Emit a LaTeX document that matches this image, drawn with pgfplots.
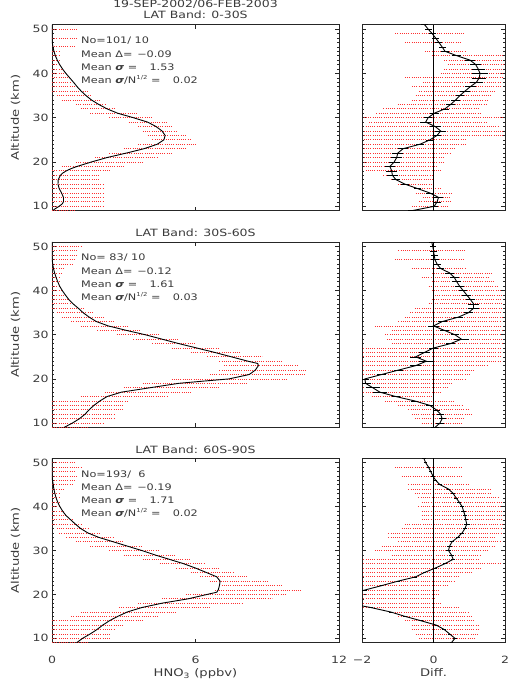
\documentclass[border=0pt]{standalone}
\usepackage{pgfplots}
\pgfplotsset{compat=1.18}
\usepackage{pgfplotstable}
\usepackage{fontspec}
\setmainfont{DejaVu Sans}
\definecolor{txt}{HTML}{3A3A3A}
\definecolor{dotred}{HTML}{FF3030}
\newcommand{\W}[1]{\tikz[baseline=(w.base)]\node[xscale=1.25, transform shape, inner sep=0pt, outer sep=0pt, anchor=base](w){#1};}

% ---------- Panel 1 (0-30S) ----------
\pgfplotstableread{
a lo hi
50 0 1.1
48 0 1.1
46 0 1.0
45 0 0.3
44 0 0.3
43 0 0.3
42 0 0.3
41 0 0.4
40 0 0.5
39 0 0.7
38 0 0.8
37 0 1.0
36 0 1.5
35 0.2 1.6
34 0.4 2.0
33 1.0 2.2
32 1.2 2.6
31 1.6 3.6
30 2.4 4.2
29 3.2 4.8
28 3.6 5.0
27 3.8 5.2
26 4.0 5.6
25 4.2 5.8
24 3.6 6.0
23 3.0 5.6
22 2.4 5.0
21 1.8 4.4
20 1.0 3.8
19 0.4 3.0
18 0 2.4
17 0 2.0
16 0 2.0
15 0 2.2
14 0 2.2
13 0 2.2
12 0 2.2
11 0 2.2
10 0 2.2
9 0 1.0
}\redA
\pgfplotstableread{
a x
9.1 0.05
9.5 0.15
10.0 0.30
10.5 0.42
11.0 0.48
12.0 0.48
13.0 0.40
14.0 0.30
15.0 0.25
16.0 0.26
17.0 0.35
17.5 0.45
18.0 0.60
18.5 0.80
19.0 1.05
19.5 1.35
20.0 1.65
21.0 2.30
22.0 3.10
23.0 3.85
24.0 4.40
25.0 4.68
26.0 4.73
27.0 4.60
28.0 4.35
29.0 4.00
30.0 3.40
31.0 2.75
32.0 2.30
33.0 1.95
34.0 1.65
35.0 1.42
36.0 1.22
37.0 1.05
38.0 0.90
39.0 0.74
40.0 0.58
41.0 0.44
42.0 0.32
43.0 0.22
44.0 0.14
45.0 0.08
46.0 0.04
47.0 0.01
48.0 0.0
51.0 0.0
}\curA
\pgfplotstableread{
a lo hi
49 -1.07 0.89
47 -0.80 0.79
45 -0.24 0.89
44 -0.05 1.95
43 0.30 1.95
42 0.40 1.95
41 0.30 1.95
40 0.20 1.95
39 -0.80 1.95
38 -0.30 1.90
37 -0.60 1.90
36 -0.40 1.70
35 -0.50 1.60
34 -0.60 1.50
33 -1.00 1.50
32 -1.40 1.30
31 -1.60 1.30
30 -1.95 1.95
29 -1.80 1.50
28 -1.90 1.80
27 -1.95 1.95
26 -1.95 1.95
25 -1.95 0.90
24 -1.95 0.90
23 -1.95 0.60
22 -1.95 0.50
21 -1.95 0.30
20 -1.95 0.30
19 -1.95 0.10
18 -1.90 0.20
17 -1.40 0.00
16 -1.20 0.00
15 -1.00 0.00
14 -0.50 0.20
13 -0.50 0.50
12 -0.30 0.50
11 -0.40 0.50
10 -0.60 0.40
}\redB
\pgfplotstableread{
a d e
51 -0.25 0.10
50 -0.15 0.10
49 -0.04 0.10
48 0.06 0.10
47 0.15 0.10
46 0.24 0.10
45 0.32 0.10
44 0.65 0.12
43 1.02 0.15
42 1.18 0.15
41 1.25 0.18
40 1.30 0.22
39 1.28 0.20
38 1.20 0.18
37 1.03 0.15
36 0.88 0.15
35 0.74 0.12
34 0.62 0.12
33 0.48 0.12
32 0.32 0.12
31 0.02 0.12
30 -0.15 0.12
29 -0.22 0.15
28 0.05 0.15
27 0.20 0.15
26 0.10 0.12
25 -0.10 0.12
24 -0.38 0.12
23 -0.85 0.15
22 -1.00 0.15
21 -1.03 0.15
20 -1.10 0.15
19 -1.22 0.15
18 -1.17 0.15
17 -1.15 0.15
16 -1.05 0.12
15 -0.80 0.12
14 -0.45 0.10
13 -0.10 0.10
12 0.14 0.12
11 0.10 0.10
10 0.02 0.10
9 -0.60 0.10
}\curB

% ---------- Panel 2 (30S-60S) ----------
\pgfplotstableread{
a lo hi
50 0 1.2
49 0 1.1
48 0 1.1
47 0 1.0
46 0 0.9
45 0 0.5
44 0 0.4
43 0 0.3
42 0 0.3
41 0 0.35
40 0 0.4
39 0 0.5
38 0 0.7
37 0 0.8
36 0 1.3
35 0.2 1.7
34 0.4 2.2
33 0.8 2.6
32 1.2 3.2
31 1.9 3.7
30 2.7 4.5
29 3.4 5.3
28 4.2 6.0
27 5.0 7.0
26 5.8 7.9
25 6.5 8.8
24 7.0 9.6
23 7.2 10.3
22 7.0 10.6
21 6.6 10.6
20 5.0 9.8
19 3.8 8.2
18 3.0 7.0
17 2.2 5.8
16 1.2 4.8
15 0 3.2
14 0 3.0
13 0 3.0
12 0 2.6
11 0 2.6
10 0 2.2
9 0 1.5
}\redC
\pgfplotstableread{
a x
9.0 0.50
10.0 0.85
11.0 1.15
12.0 1.38
13.0 1.55
14.0 1.75
15.0 2.00
16.0 2.30
17.0 2.90
18.0 4.10
19.0 5.30
19.5 6.33
20.0 7.40
21.0 8.25
22.0 8.50
23.0 8.63
23.5 8.60
24.0 8.20
25.0 7.50
26.0 6.80
27.0 6.05
28.0 5.30
29.0 4.60
30.0 3.90
31.0 3.10
32.0 2.35
33.0 1.85
34.0 1.55
35.0 1.30
36.0 1.10
37.0 0.88
38.0 0.70
39.0 0.56
40.0 0.43
41.0 0.32
42.0 0.24
43.0 0.17
44.0 0.11
45.0 0.06
46.0 0.03
47.0 0.01
47.5 0.0
51.0 0.0
}\curC
\pgfplotstableread{
a lo hi
49 -0.98 0.88
47 -1.08 0.88
45 -0.61 0.88
44 -0.05 1.63
43 -0.33 1.53
42 -0.05 1.72
41 -0.14 1.81
40 -0.05 1.91
39 0.04 1.91
38 -0.05 1.91
37 -0.14 1.91
36 -0.52 1.91
35 -0.65 1.91
34 -0.80 1.91
33 -0.98 1.91
32 -1.64 1.91
31 -1.17 1.91
30 -1.35 1.91
29 -1.30 1.91
28 -1.17 1.91
27 -1.96 1.91
26 -1.96 1.91
25 -1.96 1.91
24 -1.96 1.91
23 -1.96 1.53
22 -1.96 1.16
21 -1.96 1.00
20 -1.96 0.88
19 -1.96 0.51
18 -1.96 0.42
17 -1.96 0.23
16 -1.73 0.04
15 -1.36 0.60
14 -1.00 0.80
13 -0.70 0.98
12 -0.61 1.07
11 -0.52 0.88
10 -0.33 0.79
}\redD
\pgfplotstableread{
a d e
51 -0.05 0.08
50 -0.02 0.08
49 0.00 0.10
48 0.02 0.10
47 0.04 0.10
46 0.10 0.10
45 0.20 0.10
44 0.45 0.12
43 0.58 0.12
42 0.65 0.12
41 0.73 0.12
40 0.83 0.12
39 0.93 0.12
38 1.03 0.12
37 1.12 0.15
36 1.12 0.15
35 0.98 0.12
34 0.70 0.12
33 0.25 0.12
32 0.00 0.15
31 0.30 0.12
30 0.60 0.12
29 0.78 0.20
28 0.48 0.12
27 0.00 0.12
26 -0.25 0.15
25 -0.50 0.15
24 -0.20 0.20
23 -0.50 0.15
22 -0.98 0.12
21 -1.45 0.12
20 -1.92 0.12
19 -1.90 0.15
18 -1.70 0.20
17 -1.50 0.20
16 -1.05 0.12
15 -0.52 0.10
14 -0.10 0.10
13 0.08 0.10
12 0.20 0.10
11 0.24 0.10
10 0.18 0.10
9 0.04 0.10
}\curD

% ---------- Panel 3 (60S-90S) ----------
\pgfplotstableread{
a lo hi
50 0 1.0
49 0 1.2
48 0 1.0
47 0 1.1
46 0 1.0
45 0 0.9
44 0 0.5
43 0 0.3
42 0 0.3
41 0 0.3
40 0 0.3
39 0 0.5
38 0 0.6
37 0 0.9
36 0 1.2
35 0.2 1.5
34 0.3 2.0
33 0.6 2.6
32 1.0 3.0
31 1.6 3.8
30 2.4 4.5
29 3.0 5.2
28 3.8 5.8
27 4.5 6.4
26 5.2 7.0
25 5.8 7.6
24 6.2 8.2
23 6.6 9.0
22 7.0 9.6
21 6.8 10.4
20 5.6 9.8
19 4.6 9.2
18 3.6 8.0
17 2.8 6.6
16 1.2 5.2
15 0.8 4.4
14 0 3.8
13 0 3.0
12 0 2.6
11 0 2.4
10 0 2.4
9 0 1.5
}\redE
\pgfplotstableread{
a x
9.0 1.03
10.0 1.28
11.0 1.60
12.0 1.88
13.0 2.12
14.0 2.40
15.0 2.75
16.0 3.15
17.0 3.75
18.0 4.60
19.0 5.70
19.8 6.33
20.5 6.89
21.0 6.95
22.0 7.00
23.0 7.03
24.0 6.89
25.0 6.45
26.0 6.00
27.0 5.50
28.0 4.90
29.0 4.30
30.0 3.75
31.0 3.15
32.0 2.55
33.0 1.95
34.0 1.50
35.0 1.20
36.0 0.98
37.0 0.78
38.0 0.58
39.0 0.44
40.0 0.33
41.0 0.24
42.0 0.17
43.0 0.12
44.0 0.08
45.0 0.05
46.0 0.02
47.0 0.005
47.5 0.0
51.0 0.0
}\curE
\pgfplotstableread{
a lo hi
49 -1.08 0.79
47 -0.89 0.79
45 -0.70 0.98
44 -0.70 1.63
43 -0.52 1.63
42 -0.42 1.81
41 -0.33 1.91
40 -0.42 1.91
39 -0.33 1.91
38 -0.33 1.91
37 -0.33 1.91
36 -0.80 1.91
35 -0.89 1.91
34 -1.26 1.91
33 -1.26 1.72
32 -0.98 1.91
31 -1.45 1.72
30 -1.64 1.53
29 -1.17 1.35
28 -1.96 1.25
27 -1.96 1.91
26 -1.96 1.35
25 -1.96 1.07
24 -1.96 0.70
23 -1.96 0.60
22 -1.96 0.42
21 -1.96 0.14
20 -1.96 0.14
19 -1.96 0.04
18 -1.96 0.23
17 -1.96 0.70
16 -1.08 0.98
15 -0.98 1.07
14 -0.80 1.16
13 -0.61 1.25
12 -0.61 1.25
11 -0.50 1.25
10 -0.40 1.16
}\redF
\pgfplotstableread{
a d e
51 -0.27 0.05
50 -0.22 0.05
49 -0.14 0.05
48 -0.08 0.05
47 -0.02 0.05
46 0.06 0.05
45 0.18 0.05
44 0.42 0.05
43 0.55 0.05
42 0.63 0.05
41 0.72 0.05
40 0.80 0.06
39 0.84 0.06
38 0.88 0.06
37 0.90 0.06
36 0.93 0.08
35 0.88 0.06
34 0.80 0.06
33 0.68 0.06
32 0.52 0.06
31 0.45 0.06
30 0.42 0.06
29 0.50 0.06
28 0.55 0.06
27 0.32 0.05
26 0.05 0.05
25 -0.25 0.05
24 -0.50 0.05
23 -1.00 0.05
22 -1.45 0.05
21 -1.92 0.05
20 -2.40 0.05
19 -2.80 0.05
18 -2.40 0.05
17 -1.75 0.05
16 -1.20 0.05
15 -0.80 0.05
14 -0.35 0.05
13 0.08 0.05
12 0.30 0.05
11 0.45 0.05
10 0.60 0.06
9 0.50 0.05
}\curF

\pgfplotsset{
  base/.style={scale only axis, ymin=9, ymax=51, ytick={10,20,30,40,50},
    minor y tick num=9, tick align=inside, major tick length=4pt, minor tick length=2pt,
    axis line style={line width=0.8pt, draw=black!85},
    every tick/.style={line width=0.5pt, black!85},
    /pgf/number format/assume math mode=true,
    yticklabel={\W{\pgfmathprintnumber{\tick}}},
    tick label style={font=\fontsize{10}{12}\selectfont, text=txt},
    label style={font=\fontsize{10.5}{13}\selectfont, text=txt},
    xticklabel style={anchor=base, yshift=-20.6pt},
  },
  leftp/.style={base, width=287pt, xmin=0, xmax=12, xtick={0,6,12},
    ylabel={\W{Altitude (km)}},
    ylabel style={at={(axis description cs:-0.1265,0.5)}, anchor=center}},
  rightp/.style={base, width=143pt, xmin=-2, xmax=2, xtick={-2,0,2}, yticklabels={}},
  reddots/.style={color=dotred, draw=none, error bars/.cd, x dir=plus, x explicit, error mark=none,
    error bar style={draw=dotred, line width=0.7pt, dash pattern=on 0.7pt off 1.5pt}},
  blackline/.style={black, line width=0.9pt},
  blackerr/.style={black, line width=0.9pt, error bars/.cd, x dir=both, x explicit, error mark=none,
    error bar style={line width=0.6pt, solid, black}},
}
\tikzset{stat/.style={font=\fontsize{9}{11}\selectfont, text=txt, inner sep=0pt},
  ttl/.style={font=\fontsize{10}{12}\selectfont, text=txt, inner sep=0pt}}

\newcommand{\sig}{{\bfseries\itshape σ}}
\newcommand{\statbox}[4]{%
  \node[stat, anchor=base west] at (rel axis cs:0.101,0.898) {\W{No=#1}};
  \node[stat, anchor=base west] at (rel axis cs:0.101,0.826) {\W{Mean Δ=}};
  \node[stat, anchor=base east] at (rel axis cs:0.418,0.826) {\W{#2}};
  \node[stat, anchor=base west] at (rel axis cs:0.101,0.754) {\W{Mean \sig{} =}};
  \node[stat, anchor=base east] at (rel axis cs:0.428,0.754) {\W{#3}};
  \node[stat, anchor=base west] at (rel axis cs:0.101,0.683) {\W{Mean \sig/N\raisebox{0.8ex}{\fontsize{5.5}{6}\selectfont 1/2} =}};
  \node[stat, anchor=base east] at (rel axis cs:0.509,0.683) {\W{#4}};
}

\begin{document}
\begin{tikzpicture}
\path[use as bounding box] (0,0) rectangle (515pt,692pt);

% ===== Panel 1 =====
\begin{axis}[leftp, name=p1, at={(52pt,481.3pt)}, anchor=south west, height=186pt, xticklabels={}]
  \addplot[reddots] table[x=lo, y=a, x error plus expr=\thisrow{hi}-\thisrow{lo}] {\redA};
  \addplot[blackline] table[x=x, y=a] {\curA};
  \statbox{101/ 10}{−0.09}{1.53}{0.02}
\end{axis}
\begin{axis}[rightp, name=q1, at={(362pt,481.3pt)}, anchor=south west, height=186pt, xticklabels={}]
  \addplot[reddots] table[x=lo, y=a, x error plus expr=\thisrow{hi}-\thisrow{lo}] {\redB};
  \addplot[black, line width=0.7pt] coordinates {(0,9) (0,51)};
  \addplot[blackerr] table[x=d, y=a, x error=e] {\curB};
\end{axis}
\node[ttl, anchor=base] at ([yshift=17.4pt]p1.north) {\W{19-SEP-2002/06-FEB-2003}};
\node[ttl, anchor=base] at ([yshift=6.4pt]p1.north) {\W{LAT Band: 0-30S}};

% ===== Panel 2 =====
\begin{axis}[leftp, name=p2, at={(52pt,264.5pt)}, anchor=south west, height=185.5pt, xticklabels={}]
  \addplot[reddots] table[x=lo, y=a, x error plus expr=\thisrow{hi}-\thisrow{lo}] {\redC};
  \addplot[blackline] table[x=x, y=a] {\curC};
  \statbox{\ 83/ 10}{−0.12}{1.61}{0.03}
\end{axis}
\begin{axis}[rightp, name=q2, at={(362pt,264.5pt)}, anchor=south west, height=185.5pt, xticklabels={}]
  \addplot[reddots] table[x=lo, y=a, x error plus expr=\thisrow{hi}-\thisrow{lo}] {\redD};
  \addplot[black, line width=0.7pt] coordinates {(0,9) (0,51)};
  \addplot[blackerr] table[x=d, y=a, x error=e] {\curD};
\end{axis}
\node[ttl, anchor=base] at ([yshift=5.7pt]p2.north) {\W{LAT Band: 30S-60S}};

% ===== Panel 3 =====
\begin{axis}[leftp, name=p3, at={(52pt,49.3pt)}, anchor=south west, height=184.4pt,
  xticklabels={\W{0},\W{6},\W{12}}, xlabel={\W{HNO\textsubscript{3} (ppbv)}},
  xlabel style={at={(axis description cs:0.5,-0.186)}, anchor=base}]
  \addplot[reddots] table[x=lo, y=a, x error plus expr=\thisrow{hi}-\thisrow{lo}] {\redE};
  \addplot[blackline] table[x=x, y=a] {\curE};
  \statbox{193/\ \ 6}{−0.19}{1.71}{0.02}
\end{axis}
\begin{axis}[rightp, name=q3, at={(362pt,49.3pt)}, anchor=south west, height=184.4pt,
  xticklabels={\W{−2},\W{0},\W{2}}, xlabel={\W{Diff.}},
  xlabel style={at={(axis description cs:0.5,-0.186)}, anchor=base}]
  \addplot[reddots] table[x=lo, y=a, x error plus expr=\thisrow{hi}-\thisrow{lo}] {\redF};
  \addplot[black, line width=0.7pt] coordinates {(0,9) (0,51)};
  \addplot[blackerr] table[x=d, y=a, x error=e] {\curF};
\end{axis}
\node[ttl, anchor=base] at ([yshift=4.3pt]p3.north) {\W{LAT Band: 60S-90S}};
\end{tikzpicture}
\end{document}
